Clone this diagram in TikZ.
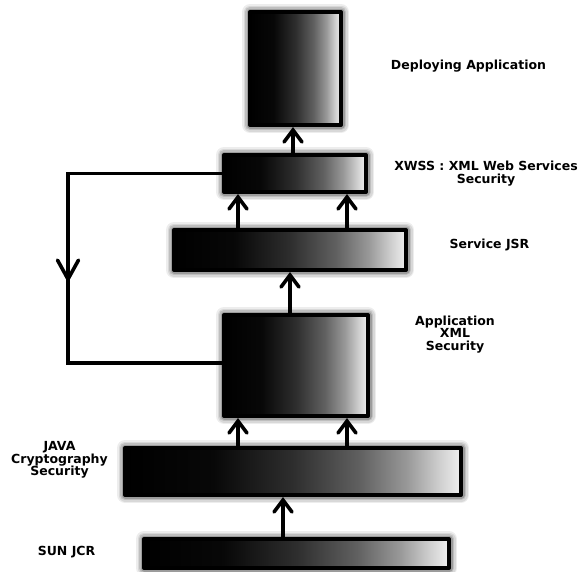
\documentclass[tikz,border=0pt]{standalone}
\usepackage{fontspec}
\setmainfont{DejaVu Sans}
\usetikzlibrary{arrows.meta,calc}
\pgfdeclarehorizontalshading{boxfade}{100bp}{color(0bp)=(black); color(25bp)=(black); color(38bp)=(black!97); color(50bp)=(black!82); color(60bp)=(black!62); color(67bp)=(black!40); color(72bp)=(black!18); color(75bp)=(black!6); color(100bp)=(black!6)}
\tikzset{
  box/.style={draw=black, line width=4pt, shading=boxfade, inner sep=0pt, line join=round,
    preaction={draw=black, line width=16pt, draw opacity=0.07},
    preaction={draw=black, line width=13pt, draw opacity=0.09},
    preaction={draw=black, line width=10pt, draw opacity=0.12},
    preaction={draw=black, line width=7pt, draw opacity=0.18}},
  conn/.style={draw=black, line width=3.3pt},
  arr/.style={conn, -{Straight Barb[length=12pt, width=18pt, line width=3.6pt, line cap=round]}},
  looparr/.style={conn, -{Straight Barb[length=19pt, width=21pt, line width=3.6pt, line cap=round]}},
  lbl/.style={font=\fontsize{12.5pt}{12.5pt}\selectfont\bfseries, align=center, inner sep=0pt}
}
\begin{document}
\begin{tikzpicture}[x=1pt, y=-1pt]
\useasboundingbox (0,0) rectangle (587,571);
% boxes
\node[box, minimum width=91pt, minimum height=113pt] (dep) at (295.5,68.5) {};
\node[box, minimum width=142pt, minimum height=37pt] (xwss) at (295,173.5) {};
\node[box, minimum width=232pt, minimum height=40pt] (sjsr) at (290,250) {};
\node[box, minimum width=144pt, minimum height=101pt] (app) at (296,365.5) {};
\node[box, minimum width=336pt, minimum height=47pt] (java) at (293,471.5) {};
\node[box, minimum width=305pt, minimum height=29pt] (sun) at (296.5,553.5) {};
% labels
\node[lbl] (ldep) at (468.5,66) {Deploying Application};
\node[lbl] (lxwss) at (486,173.5) {XWSS : XML Web Services\\Security};
\node[lbl] (lsjsr) at (489.5,245) {Service JSR};
\node[lbl] (lapp) at (455,334.5) {Application\\XML\\Security};
\node[lbl] (ljava) at (59.5,460) {JAVA\\Cryptography\\Security};
\node[lbl] (lsun) at (66.5,552) {SUN JCR};
% arrows
\draw[arr] ([xshift=-13.5pt]sun.north) coordinate (s1) -- (s1 |- java.south);
\draw[arr] ([xshift=-55pt]java.north) coordinate (j1) -- (j1 |- app.south);
\draw[arr] ([xshift=54pt]java.north) coordinate (j2) -- (j2 |- app.south);
\draw[arr] ([xshift=-6pt]app.north) coordinate (a1) -- (a1 |- sjsr.south);
\draw[arr] ([xshift=-52pt]sjsr.north) coordinate (r1) -- (r1 |- xwss.south);
\draw[arr] ([xshift=57pt]sjsr.north) coordinate (r2) -- (r2 |- xwss.south);
\draw[arr] ([xshift=-2pt]xwss.north) coordinate (x1) -- (x1 |- dep.south);
% feedback loop
\coordinate (lx) at (68,0);
\draw[conn, line join=miter] (xwss.west) -- (xwss.west -| lx) coordinate (lt)
  -- ([yshift=2.5pt]app.west -| lx) coordinate (lb) -- ([yshift=2.5pt]app.west);
\draw[looparr] (lt) -- ($(lt)!0.577!(lb)$);
\end{tikzpicture}
\end{document}
